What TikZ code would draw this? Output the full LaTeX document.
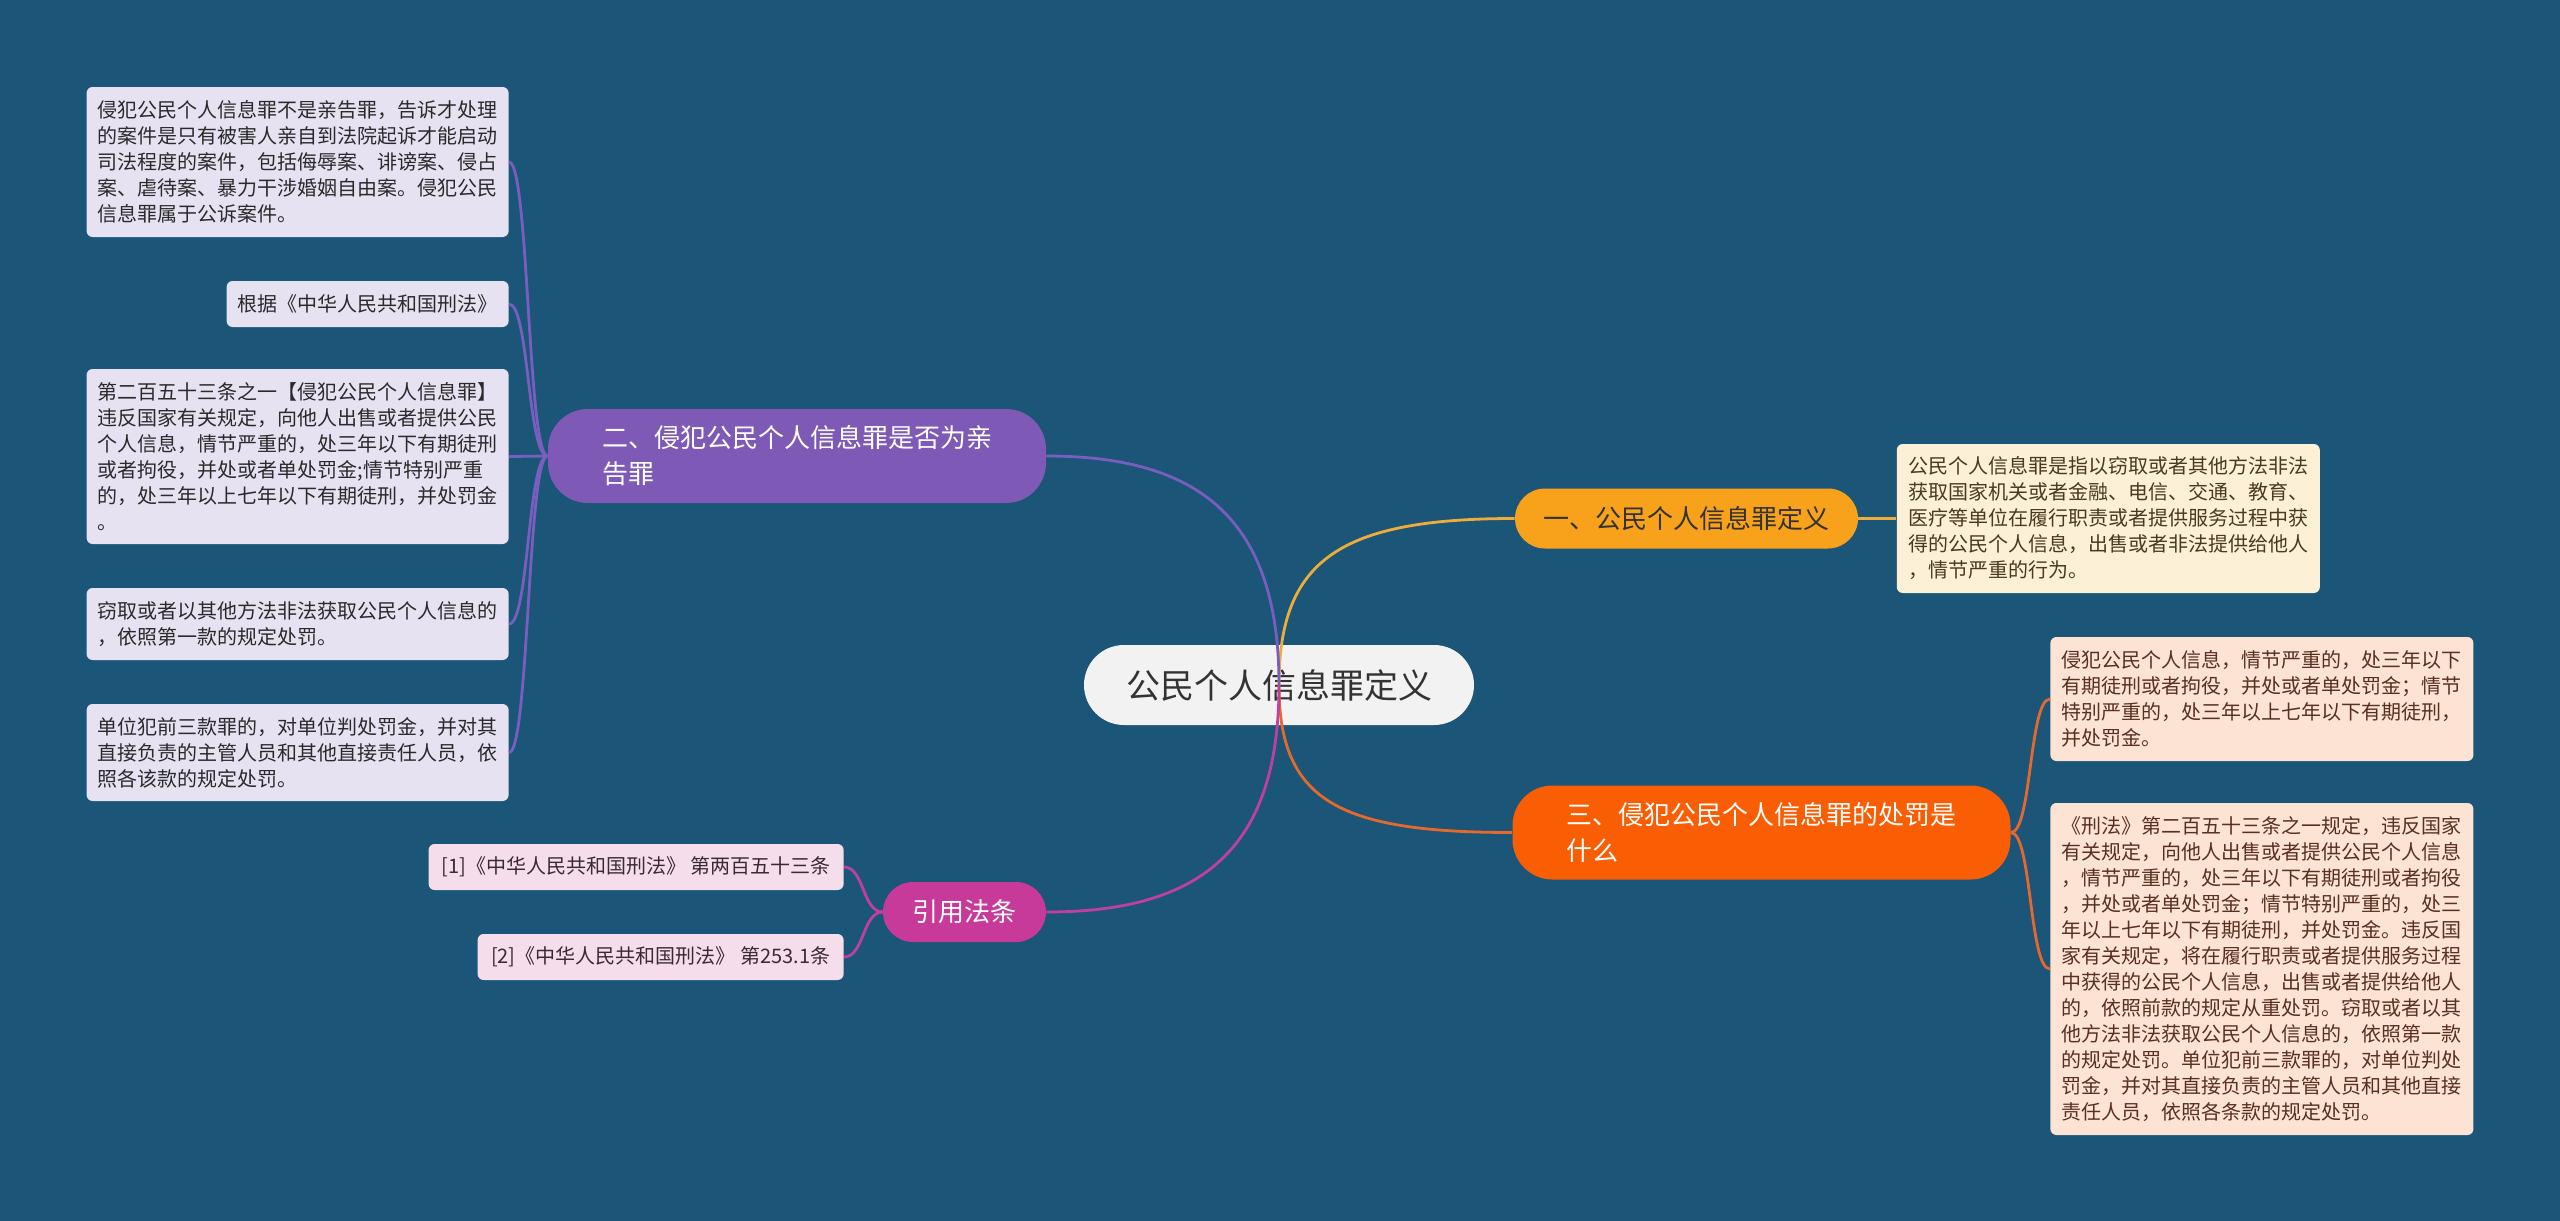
\documentclass[tikz,border=0pt]{standalone}
\usepackage{fontspec}
\setmainfont{Noto Sans CJK SC}
\usepackage{tikz}
\usetikzlibrary{positioning}

\definecolor{bgblue}{HTML}{1B5578}
\definecolor{rootfill}{HTML}{F2F2F2}
\definecolor{rootink}{HTML}{333333}
\definecolor{ambfill}{HTML}{F8A21C}
\definecolor{ambline}{HTML}{EEAC3D}
\definecolor{ambleaf}{HTML}{FCF0D6}
\definecolor{ambink}{HTML}{4A3A1F}
\definecolor{purfill}{HTML}{7E5AB6}
\definecolor{purline}{HTML}{7A5EBE}
\definecolor{purleaf}{HTML}{E6E2F1}
\definecolor{purink}{HTML}{2A2A2A}
\definecolor{orfill}{HTML}{FA5E04}
\definecolor{orline}{HTML}{E4692C}
\definecolor{orleaf}{HTML}{FCE3D3}
\definecolor{orink}{HTML}{5A3020}
\definecolor{magfill}{HTML}{C83A9A}
\definecolor{magline}{HTML}{C040A2}
\definecolor{magleaf}{HTML}{F5DDEB}
\definecolor{magink}{HTML}{3A2A33}

\begin{document}
\begin{tikzpicture}[x=0.5pt, y=-0.5pt,
    root/.style={fill=rootfill, text=rootink, rounded corners=20pt, minimum width=195pt, minimum height=40pt, font=\fontsize{17pt}{20pt}\selectfont},
    branch/.style={rounded corners=15pt, minimum height=30pt, inner xsep=0pt, font=\fontsize{13pt}{18pt}\selectfont},
    bigbranch/.style={branch, rounded corners=20pt, text width=195pt, align=left, minimum width=249pt, minimum height=47pt, text=white},
    leaf/.style={rounded corners=3pt, align=left, inner xsep=5.5pt, inner ysep=0pt, font=\fontsize{10pt}{13pt}\selectfont},
    link/.style={line width=1.4pt}
]
\fill[bgblue] (0,0) rectangle (2560,1221);
\useasboundingbox (0,0) rectangle (2560,1221);

% centre and main branches
\node[root] (root) at (1279,685) {公民个人信息罪定义};
\node[branch, fill=ambfill, text=rootink, minimum width=171.5pt] (sec1) at (1686.5,518.5) {一、公民个人信息罪定义};
\node[bigbranch, fill=purfill] (sec2) at (797,456) {二、侵犯公民个人信息罪是否为亲\\告罪};
\node[bigbranch, fill=orfill] (sec3) at (1761.5,832.5) {三、侵犯公民个人信息罪的处罚是\\什么};
\node[branch, fill=magfill, text=white, minimum width=81.5pt] (cite) at (964.5,912) {引用法条};

% leaves
\node[leaf, fill=ambleaf, text=ambink, minimum width=211.5pt, minimum height=74.5pt, right=19pt of sec1] (def) {公民个人信息罪是指以窃取或者其他方法非法\\获取国家机关或者金融、电信、交通、教育、\\医疗等单位在履行职责或者提供服务过程中获\\得的公民个人信息，出售或者非法提供给他人\\，情节严重的行为。};

\node[leaf, fill=purleaf, text=purink, minimum width=211pt, minimum height=75pt, anchor=east] (q1) at (509,162) {侵犯公民个人信息罪不是亲告罪，告诉才处理\\的案件是只有被害人亲自到法院起诉才能启动\\司法程度的案件，包括侮辱案、诽谤案、侵占\\案、虐待案、暴力干涉婚姻自由案。侵犯公民\\信息罪属于公诉案件。};
\node[leaf, fill=purleaf, text=purink, minimum width=140pt, minimum height=23pt, anchor=east] (q2) at (509,304) {根据《中华人民共和国刑法》};
\node[leaf, fill=purleaf, text=purink, minimum width=211pt, minimum height=87.5pt, anchor=east] (q3) at (509,456.5) {第二百五十三条之一【侵犯公民个人信息罪】\\违反国家有关规定，向他人出售或者提供公民\\个人信息，情节严重的，处三年以下有期徒刑\\或者拘役，并处或者单处罚金;情节特别严重\\的，处三年以上七年以下有期徒刑，并处罚金\\。};
\node[leaf, fill=purleaf, text=purink, minimum width=211pt, minimum height=36pt, anchor=east] (q4) at (509,624) {窃取或者以其他方法非法获取公民个人信息的\\，依照第一款的规定处罚。};
\node[leaf, fill=purleaf, text=purink, minimum width=211pt, minimum height=48.5pt, anchor=east] (q5) at (509,752.5) {单位犯前三款罪的，对单位判处罚金，并对其\\直接负责的主管人员和其他直接责任人员，依\\照各该款的规定处罚。};

\node[leaf, fill=orleaf, text=orink, minimum width=211.5pt, minimum height=62pt, anchor=west] (p1) at (2050,699) {侵犯公民个人信息，情节严重的，处三年以下\\有期徒刑或者拘役，并处或者单处罚金；情节\\特别严重的，处三年以上七年以下有期徒刑，\\并处罚金。};
\node[leaf, fill=orleaf, text=orink, minimum width=211.5pt, minimum height=166pt, anchor=west] (p2) at (2050,969) {《刑法》第二百五十三条之一规定，违反国家\\有关规定，向他人出售或者提供公民个人信息\\，情节严重的，处三年以下有期徒刑或者拘役\\，并处或者单处罚金；情节特别严重的，处三\\年以上七年以下有期徒刑，并处罚金。违反国\\家有关规定，将在履行职责或者提供服务过程\\中获得的公民个人信息，出售或者提供给他人\\的，依照前款的规定从重处罚。窃取或者以其\\他方法非法获取公民个人信息的，依照第一款\\的规定处罚。单位犯前三款罪的，对单位判处\\罚金，并对其直接负责的主管人员和其他直接\\责任人员，依照各条款的规定处罚。};

\node[leaf, fill=magleaf, text=magink, minimum width=207.5pt, minimum height=23pt, anchor=east] (c1) at (844,867) {[1]《中华人民共和国刑法》 第两百五十三条};
\node[leaf, fill=magleaf, text=magink, minimum width=183pt, minimum height=23pt, anchor=east] (c2) at (844,957) {[2]《中华人民共和国刑法》 第253.1条};

% connectors
\draw[link, ambline] (root.center) .. controls +(0,-125) and +(-175,0) .. (sec1.west);
\draw[link, orline] (root.center) .. controls +(0,115) and +(-175,0) .. (sec3.west);
\draw[link, purline] (root.center) .. controls +(0,-165) and +(154,0) .. (sec2.east);
\draw[link, magline] (root.center) .. controls +(0,165) and +(154,0) .. (cite.east);

\draw[link, ambline] (sec1.east) -- (def.west);
\foreach \q in {q1,q2,q3,q4,q5}
  \draw[link, purline] (sec2.west) .. controls +(-20,0) and +(20,0) .. (\q.east);
\foreach \p in {p1,p2}
  \draw[link, orline] (sec3.east) .. controls +(21,0) and +(-21,0) .. (\p.west);
\foreach \c in {c1,c2}
  \draw[link, magline] (cite.west) .. controls +(-20,0) and +(20,0) .. (\c.east);
\end{tikzpicture}
\end{document}
